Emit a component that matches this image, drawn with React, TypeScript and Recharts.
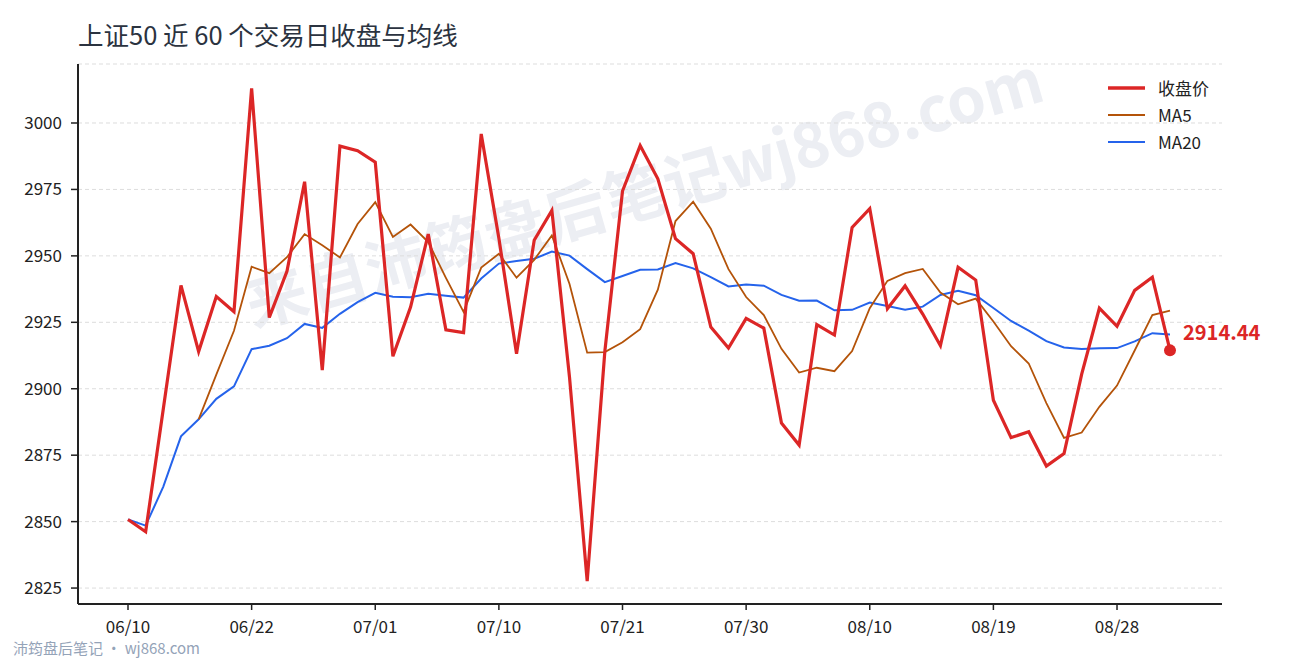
import React from "react";
import { LineChart, Line, XAxis, YAxis, CartesianGrid, ReferenceDot } from "recharts";

const dates = [
  "06/10", "06/11", "06/12", "06/13", "06/16", "06/18", "06/20", "06/22", "06/23", "06/24",
  "06/25", "06/26", "06/27", "06/30", "07/01", "07/02", "07/03", "07/04", "07/07", "07/08",
  "07/09", "07/10", "07/11", "07/14", "07/15", "07/16", "07/17", "07/18", "07/21", "07/22",
  "07/23", "07/24", "07/25", "07/28", "07/29", "07/30", "07/31", "08/01", "08/04", "08/05",
  "08/06", "08/07", "08/10", "08/11", "08/12", "08/13", "08/14", "08/15", "08/18", "08/19",
  "08/20", "08/21", "08/22", "08/25", "08/26", "08/27", "08/28", "08/29", "09/01", "09/02",
];

const closePrices = [
  2850.8, 2846.2, 2892.5, 2938.9, 2914.0, 2934.7, 2929.0, 3013.0, 2926.8, 2944.2,
  2977.9, 2907.0, 2991.3, 2989.6, 2985.3, 2912.2, 2930.7, 2958.2, 2922.2, 2921.1,
  2995.9, 2956.6, 2913.2, 2955.9, 2967.1, 2904.3, 2827.6, 2914.1, 2974.4, 2991.5,
  2979.0, 2956.5, 2950.8, 2923.2, 2915.3, 2926.5, 2922.8, 2887.1, 2878.8, 2924.1,
  2920.2, 2960.7, 2967.8, 2930.1, 2938.7, 2928.1, 2916.2, 2945.7, 2940.9, 2895.7,
  2881.6, 2883.8, 2870.9, 2875.6, 2905.5, 2930.3, 2923.5, 2937.0, 2942.0, 2914.44,
];

const ma5Values = [
  null, null, null, null, 2888.5, 2905.3, 2921.8, 2945.9, 2943.5, 2949.5,
  2958.2, 2954.0, 2949.4, 2962.0, 2970.2, 2957.1, 2961.8, 2955.2, 2941.7, 2928.9,
  2945.6, 2950.8, 2941.8, 2948.5, 2957.7, 2939.4, 2913.6, 2913.8, 2917.5, 2922.4,
  2937.3, 2963.1, 2970.4, 2960.2, 2945.0, 2934.5, 2927.7, 2915.0, 2906.1, 2907.9,
  2906.6, 2914.2, 2930.3, 2940.6, 2943.5, 2945.1, 2936.2, 2931.8, 2933.9, 2925.3,
  2916.0, 2909.5, 2894.6, 2881.5, 2883.5, 2893.2, 2901.2, 2914.4, 2927.7, 2929.4,
];

const ma20Values = [
  2850.8, 2848.5, 2863.2, 2882.1, 2888.5, 2896.2, 2900.9, 2914.9, 2916.2, 2919.0,
  2924.4, 2922.9, 2928.2, 2932.6, 2936.1, 2934.6, 2934.4, 2935.7, 2935.0, 2934.3,
  2941.5, 2947.1, 2948.1, 2948.9, 2951.6, 2950.1, 2945.0, 2940.1, 2942.4, 2944.8,
  2944.9, 2947.3, 2945.3, 2942.0, 2938.5, 2939.2, 2938.8, 2935.3, 2933.1, 2933.2,
  2929.5, 2929.7, 2932.4, 2931.1, 2929.7, 2930.9, 2935.3, 2936.9, 2935.2, 2930.4,
  2925.5, 2921.9, 2917.9, 2915.5, 2915.0, 2915.2, 2915.3, 2917.8, 2920.9, 2920.4,
];

const yTicks = [2825, 2850, 2875, 2900, 2925, 2950, 2975, 3000];
const titleText = "上证50 近 60 个交易日收盘与均线";
const watermarkText = "来自沛筠盘后笔记wj868.com";
const captionText = "沛筠盘后笔记 · wj868.com";
const seriesLabels = ["收盘价", "MA5", "MA20"];

const RED = "#dc2626";
const ORANGE = "#b45309";
const BLUE = "#2563eb";
const FONT = "'Noto Sans CJK SC', 'Noto Sans', sans-serif";

const data = dates.map((d, i) => ({
  date: d,
  close: closePrices[i],
  ma5: ma5Values[i],
  ma20: ma20Values[i],
}));

const legendItems = [
  { label: seriesLabels[0], color: RED, width: 3.5 },
  { label: seriesLabels[1], color: ORANGE, width: 2 },
  { label: seriesLabels[2], color: BLUE, width: 2 },
];

const EndLabel = (props: any) => {
  const vb = props.viewBox || {};
  const cx = (vb.x ?? 0) + (vb.width ?? 0) / 2;
  const cy = (vb.y ?? 0) + (vb.height ?? 0) / 2;
  return (
    <text
      x={cx + 13}
      y={cy - 19}
      fill={RED}
      fontSize={20}
      fontWeight="bold"
      dominantBaseline="central"
      textAnchor="start"
    >
      {closePrices[closePrices.length - 1].toFixed(2)}
    </text>
  );
};

export default function App() {
  const last = dates.length - 1;
  return (
    <div
      style={{
        position: "fixed",
        left: 0,
        top: 0,
        width: 1290,
        height: 660,
        background: "#fff",
        fontFamily: FONT,
        overflow: "hidden",
      }}
    >
      <div
        style={{
          position: "absolute",
          left: 643,
          top: 188,
          transform: "translate(-50%, -50%) rotate(-16deg)",
          fontSize: 62,
          fontWeight: 700,
          color: "#eceef3",
          whiteSpace: "nowrap",
          lineHeight: 1,
        }}
      >
        {watermarkText}
      </div>
      <div
        style={{
          position: "absolute",
          left: 78,
          top: 21,
          fontSize: 25.5,
          lineHeight: "25px",
          color: "#2b3340",
          whiteSpace: "nowrap",
        }}
      >
        {titleText}
      </div>
      <div
        style={{
          position: "absolute",
          left: 13,
          top: 640,
          fontSize: 15,
          lineHeight: "15px",
          color: "#94a3b8",
          whiteSpace: "nowrap",
        }}
      >
        {captionText}
      </div>
      <div style={{ position: "absolute", left: 0, top: 0 }}>
        <LineChart width={1290} height={660} data={data} margin={{ top: 64, right: 68, bottom: 16, left: 18 }}>
          <CartesianGrid vertical={false} stroke="#dddddd" strokeDasharray="4 3" />
          <XAxis
            dataKey="date"
            interval={6}
            padding={{ left: 50, right: 52 }}
            height={40}
            tickSize={6}
            tickMargin={11}
            tick={{ fill: "#222", fontSize: 17 }}
            tickLine={{ stroke: "#222", strokeWidth: 1.5 }}
            axisLine={{ stroke: "#222", strokeWidth: 2 }}
          />
          <YAxis
            domain={[2819, 3022.2]}
            ticks={yTicks}
            allowDataOverflow
            width={60}
            tickSize={7}
            tickMargin={9}
            tick={{ fill: "#222", fontSize: 17 }}
            tickLine={{ stroke: "#222", strokeWidth: 1.5 }}
            axisLine={{ stroke: "#222", strokeWidth: 2 }}
          />
          <Line dataKey="ma20" name={seriesLabels[2]} stroke={BLUE} strokeWidth={2} dot={false} isAnimationActive={false} />
          <Line dataKey="ma5" name={seriesLabels[1]} stroke={ORANGE} strokeWidth={1.8} dot={false} isAnimationActive={false} />
          <Line dataKey="close" name={seriesLabels[0]} stroke={RED} strokeWidth={3.2} dot={false} isAnimationActive={false} />
          <ReferenceDot
            x={dates[last]}
            y={closePrices[last]}
            r={6}
            fill={RED}
            stroke="none"
            label={<EndLabel />}
          />
        </LineChart>
      </div>
      <div style={{ position: "absolute", left: 1108, top: 75, display: "flex", flexDirection: "column" }}>
        {legendItems.map((it) => (
          <div key={it.label} style={{ display: "flex", alignItems: "center", height: 26.7 }}>
            <svg width={37} height={8} style={{ display: "block" }}>
              <line x1={0} y1={4} x2={37} y2={4} stroke={it.color} strokeWidth={it.width} />
            </svg>
            <span style={{ marginLeft: 13, fontSize: 17, color: "#222", lineHeight: "20px" }}>{it.label}</span>
          </div>
        ))}
      </div>
    </div>
  );
}
